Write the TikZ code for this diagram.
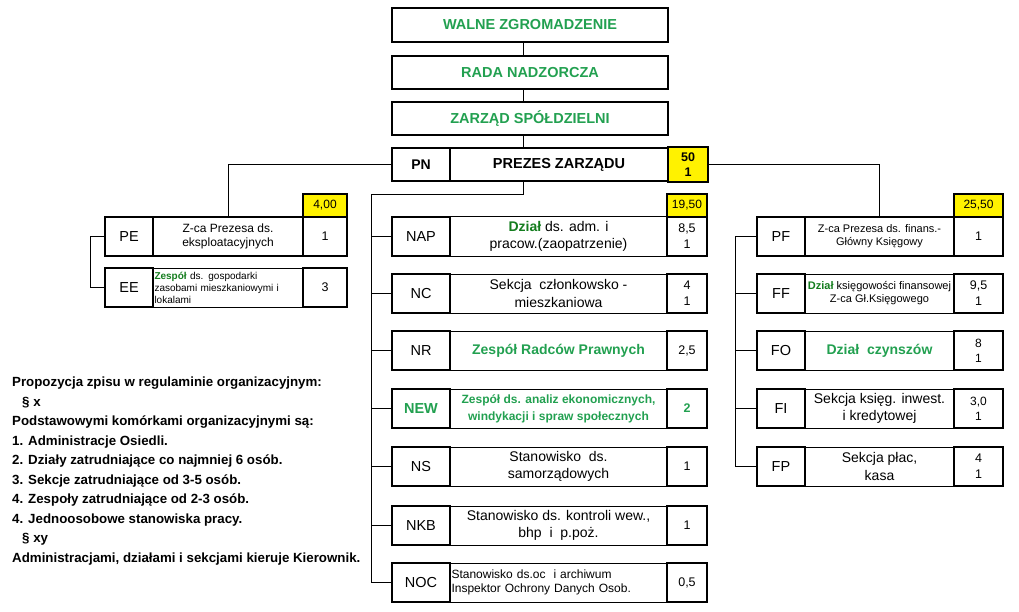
\documentclass[tikz,border=0pt]{standalone}
\usepackage{fontspec}
\setmainfont{Liberation Sans}
\usetikzlibrary{positioning}
\definecolor{tgreen}{RGB}{34,160,80}
\definecolor{dgreen}{RGB}{20,125,30}
\newcommand{\fs}[2]{\fontsize{#1}{#2}\selectfont}

\begin{document}
\begin{tikzpicture}[x=1pt,y=-1pt,
    box/.style={draw,line width=2.2pt,inner sep=0pt,align=center},
    hdr/.style={box,minimum width=276,minimum height=34,text=tgreen,font=\bfseries\fs{14.5}{17}},
    code/.style={box,minimum height=39,font=\fs{14.5}{17}},
    txt/.style={draw,line width=1pt,inner sep=0pt,align=center,minimum height=39,font=\fs{14}{17.5}},
    num/.style={box,minimum height=39,font=\fs{12.5}{16}},
    yel/.style={box,fill=yellow,minimum height=23,font=\fs{12}{14}},
    conn/.style={line width=1pt}]
    \useasboundingbox (0,0) rectangle (1019,612);
    %top
    \node[hdr] (wz) at (530,25) {WALNE ZGROMADZENIE};
    \node[hdr,minimum height=33] (rn) at (530,72.5) {RADA NADZORCZA};
    \node[hdr,minimum height=33] (zs) at (530,118.5) {ZARZĄD SPÓŁDZIELNI};
    %PN row
    \node[box,minimum width=218,minimum height=33,font=\bfseries\fs{14.5}{17}] (pz) at (559,164.5) {PREZES ZARZĄDU};
    \node[box,minimum width=58,minimum height=33,font=\bfseries\fs{14}{17}] (pn) at (421,164.5) {PN};
    \node[yel,minimum width=40,minimum height=35,font=\bfseries\fs{12.5}{15}] (pny) at (688,164.5) {50\\1};
    %left
    \node[yel,minimum width=44] (pey) at (325,205.5) {4,00};
    \node[txt,line width=2.2pt,minimum width=150,font=\fs{12}{14}] (pet) at (228,236.5) {Z-ca Prezesa ds.\\eksploatacyjnych};
    \node[code,minimum width=48] (pe) at (129,236.5) {PE};
    \node[num,minimum width=44] (pen) at (325,236.5) {1};
    \node[txt,minimum width=150,text width=147,align=left,font=\fs{10}{12}] (eet) at (228,287.5) {\textcolor{dgreen}{\bfseries Zespół} ds. gospodarki\\zasobami mieszkaniowymi i\\lokalami};
    \node[code,minimum width=48] (ee) at (129,287.5) {EE};
    \node[num,minimum width=44] (een) at (325,287.5) {3};
    %middle
    \node[yel,minimum width=40] (napy) at (687,205.5) {19,50};
    \node[txt,minimum width=217] (napt) at (558.5,236.5) {\textcolor{dgreen}{\bfseries Dział} ds. adm. i\\pracow.(zaopatrzenie)};
    \node[code,minimum width=58] (nap) at (421,236.5) {NAP};
    \node[num,minimum width=40] (napn) at (687,236.5) {8,5\\1};
    \node[txt,minimum width=217] (nct) at (558.5,293.5) {Sekcja\ \ członkowsko -\\mieszkaniowa};
    \node[code,minimum width=58] (nc) at (421,293.5) {NC};
    \node[num,minimum width=40] (ncn) at (687,293.5) {4\\1};
    \node[txt,minimum width=217,text=tgreen,font=\bfseries\fs{14}{17}] (nrt) at (558.5,350.5) {Zespół Radców Prawnych};
    \node[code,minimum width=58] (nr) at (421,350.5) {NR};
    \node[num,minimum width=40] (nrn) at (687,350.5) {2,5};
    \node[txt,minimum width=217,text=tgreen,font=\bfseries\fs{12}{17}] (newt) at (558.5,408.5) {Zespół ds. analiz ekonomicznych,\\windykacji i spraw społecznych};
    \node[code,minimum width=58,text=tgreen,font=\bfseries\fs{14.5}{17}] (new) at (421,408.5) {NEW};
    \node[num,minimum width=40,text=tgreen,font=\bfseries\fs{12.5}{17}] (newn) at (687,408.5) {2};
    \node[txt,minimum width=217] (nst) at (558.5,466.5) {Stanowisko\ \ ds.\\samorządowych};
    \node[code,minimum width=58] (ns) at (421,466.5) {NS};
    \node[num,minimum width=40] (nsn) at (687,466.5) {1};
    \node[txt,minimum width=217] (nkbt) at (558.5,525.5) {Stanowisko ds. kontroli wew.,\\bhp\ \ i\ \ p.poż.};
    \node[code,minimum width=58] (nkb) at (421,525.5) {NKB};
    \node[num,minimum width=40] (nkbn) at (687,525.5) {1};
    \node[txt,minimum width=217,text width=214,align=left,font=\fs{12}{14}] (noct) at (558.5,582.5) {Stanowisko ds.oc\ \ i archiwum\\Inspektor Ochrony Danych Osob.};
    \node[code,minimum width=58] (noc) at (421,582.5) {NOC};
    \node[num,minimum width=40] (nocn) at (687,582.5) {0,5};
    %right
    \node[yel,minimum width=49] (pfy) at (978.5,205.5) {25,50};
    \node[txt,line width=2.2pt,minimum width=149,font=\fs{11}{13}] (pft) at (879.5,236.5) {Z-ca Prezesa ds. finans.-\\Główny Księgowy};
    \node[code,minimum width=48] (pf) at (781,236.5) {PF};
    \node[num,minimum width=49] (pfn) at (978.5,236.5) {1};
    \node[txt,minimum width=149,font=\fs{11}{13}] (fft) at (879.5,293.5) {\textcolor{dgreen}{\bfseries Dział} księgowości finansowej\\Z-ca Gł.Księgowego};
    \node[code,minimum width=48] (ff) at (781,293.5) {FF};
    \node[num,minimum width=49] (ffn) at (978.5,293.5) {9,5\\1};
    \node[txt,minimum width=149,text=tgreen,font=\bfseries\fs{14}{17}] (fot) at (879.5,350.5) {Dział\ \ czynszów};
    \node[code,minimum width=48] (fo) at (781,350.5) {FO};
    \node[num,minimum width=49,font=\fs{12}{15}] (fon) at (978.5,350.5) {8\\1};
    \node[txt,minimum width=149] (fit) at (879.5,408.5) {Sekcja księg. inwest.\\i kredytowej};
    \node[code,minimum width=48] (fi) at (781,408.5) {FI};
    \node[num,minimum width=49,font=\fs{12}{15}] (fin) at (978.5,408.5) {3,0\\1};
    \node[txt,minimum width=149] (fpt) at (879.5,466.5) {Sekcja płac,\\kasa};
    \node[code,minimum width=48] (fp) at (781,466.5) {FP};
    \node[num,minimum width=49] (fpn) at (978.5,466.5) {4\\1};
    %note
    \node[anchor=north west,align=left,inner sep=0pt,font=\bfseries\fs{13.3}{19.5}] (note) at (12,377) {Propozycja zpisu w regulaminie organizacyjnym:\\\hspace*{10pt}§ x\\Podstawowymi komórkami organizacyjnymi są:\\1. Administracje Osiedli.\\2. Działy zatrudniające co najmniej 6 osób.\\3. Sekcje zatrudniające od 3-5 osób.\\4. Zespoły zatrudniające od 2-3 osób.\\4. Jednoosobowe stanowiska pracy.\\\hspace*{10pt}§ xy\\Administracjami, działami i sekcjami kieruje Kierownik.};
    %lines
    \draw[conn] ([xshift=-7]wz.south) -- ([xshift=-7]rn.north);
    \draw[conn] ([xshift=-7]rn.south) -- ([xshift=-7]zs.north);
    \draw[conn] ([xshift=-7]zs.south) -- ([xshift=-36]pz.north);
    \draw[conn] (pn.west) -| (pet.north);
    \draw[conn] (pny.east) -| (pft.north);
    \coordinate (msp) at (371,195);
    \draw[conn] ([xshift=-36]pz.south) |- (msp) |- (noc.west);
    \draw[conn] (msp |- nap.west) -- (nap.west);
    \draw[conn] (msp |- nc.west) -- (nc.west);
    \draw[conn] (msp |- nr.west) -- (nr.west);
    \draw[conn] (msp |- new.west) -- (new.west);
    \draw[conn] (msp |- ns.west) -- (ns.west);
    \draw[conn] (msp |- nkb.west) -- (nkb.west);
    \coordinate (lsp) at (90,236.5);
    \draw[conn] (pe.west) -- (lsp) |- (ee.west);
    \coordinate (rsp) at (735,236.5);
    \draw[conn] (pf.west) -- (rsp) |- (fp.west);
    \draw[conn] (rsp |- ff.west) -- (ff.west);
    \draw[conn] (rsp |- fo.west) -- (fo.west);
    \draw[conn] (rsp |- fi.west) -- (fi.west);
  \end{tikzpicture}
\end{document}
